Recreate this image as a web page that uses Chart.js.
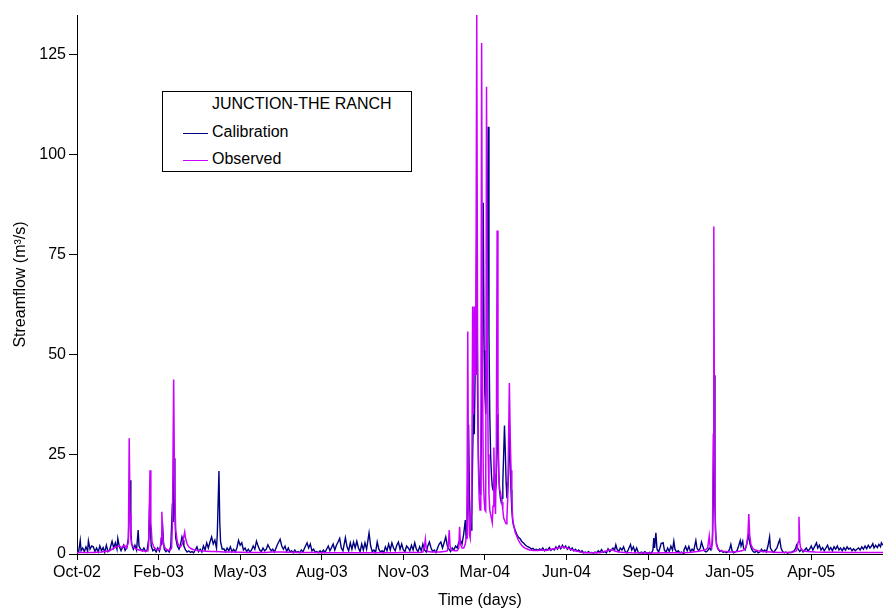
<!DOCTYPE html>
<html>
<head>
<meta charset="utf-8">
<script src="https://cdn.jsdelivr.net/npm/chart.js@4.4.1/dist/chart.umd.min.js"></script>
<style>
  body { margin: 0; background: #fff; }
  #wrap { position: relative; width: 883px; height: 610px; }
  #legend {
    position: absolute; left: 162px; top: 91px; width: 250px; height: 81px;
    border: 1px solid #000; background: #fff; box-sizing: border-box;
    font: 16px "Liberation Sans", Arial, sans-serif; color: #000;
  }
  #legend .ttl { position: absolute; left: 49px; top: 3px; }
  #legend .row { position: absolute; left: 20px; height: 20px; }
  #legend .sw { position: absolute; left: 0; top: 10px; width: 25px; height: 0; }
  #legend .lbl { position: absolute; left: 29px; top: 0; white-space: nowrap; }
</style>
</head>
<body>
<div id="wrap">
  <canvas id="flowChart" width="883" height="610"></canvas>
  <div id="legend"></div>
</div>
<script>
// days counted from 25 Oct 2002, streamflow in m3/s
const legendTitle = "JUNCTION-THE RANCH";
const xTickLabels = ["Oct-02", "Feb-03", "May-03", "Aug-03", "Nov-03", "Mar-04", "Jun-04", "Sep-04", "Jan-05", "Apr-05"];
const yTicks = [0, 25, 50, 75, 100, 125];

const calibration = [
  [0,1.0],[2,0.5],[4,3.4],[5,0.8],[7,1.5],[9,0.6],[11,1.8],[13,0.7],[14,3.3],[16,1.2],[18,2.0],[20,1.8],
  [22,0.6],[24,1.5],[26,0.5],[28,2.0],[30,0.8],[32,1.6],[34,0.4],[36,2.2],[38,0.6],[40,1.0],[43,3.2],[45,1.5],
  [47,2.8],[49,1.2],[50,3.9],[52,1.8],[54,0.8],[57,2.2],[59,0.9],[61,1.5],[63,4],[65,18.5],[66,6],[67,2.5],
  [69,1.2],[71,2.2],[73,1.0],[75,6.0],[76,2],[78,1.2],[80,0.8],[82,1.5],[84,0.6],[86,1.0],[88,4],[89,12.7],
  [90,6],[91,2],[93,0.8],[95,1.2],[97,0.5],[99,1.5],[101,0.7],[103,2.5],[104,5.5],[105,6.8],[106,3],[107,1.2],
  [109,0.6],[111,1.0],[113,0.5],[115,2.0],[117,12.7],[118,8],[119,24],[120,10],[121,4],[123,2],[125,1.2],[127,2.5],
  [128.7,4.3],[130,3.5],[131,2],[133,1.0],[135,0.5],[137,0.8],[139,0.4],[141,0.6],[143,0.3],[145,1.0],[147,1.8],
  [149,0.6],[151,1.2],[153,0.5],[155,2.0],[157,1.0],[159,2.8],[161,1.5],[163,3.0],[165,4.3],[167,2.5],[169,3.5],
  [171,1.5],[172,5],[174,20.8],[175,8],[176,3],[178,1.2],[180,1.3],[182,0.6],[184,1.5],[186,0.8],[188,1.8],
  [190,0.6],[192,1.2],[194,0.5],[196,1.5],[198,3.4],[200,2.2],[202,2.8],[204,1.0],[206,1.5],[208,0.6],[210,1.2],
  [212,0.5],[214,1.0],[216,2.0],[218,1.2],[220,3.2],[222,2.0],[224,1.0],[226,0.6],[228,1.5],[230,0.8],[232,1.2],
  [234,2.3],[236,1.5],[238,0.8],[240,1.2],[242,0.5],[244,1.5],[246,2.5],[249,3.7],[251,2.0],[253,1.2],[255,2.0],
  [257,0.6],[259,1.5],[261,0.5],[263,0.8],[265,0.3],[267,1.0],[269,0.4],[271,0.6],[273,0.3],[275,1.0],[277,0.5],
  [279,1.5],[282,2.8],[284,1.5],[286,2.5],[288,0.8],[290,1.2],[292,0.4],[294,0.6],[296,0.3],[298,0.8],[300,0.3],
  [302,1.0],[304,0.4],[306,1.2],[308,2.0],[310,0.8],[312,1.6],[314,2.5],[316,1.0],[318,2.2],[320,3.0],[322,3.9],
  [324,1.5],[326,0.8],[329,4.1],[331,1.8],[333,0.8],[335,2.8],[337,1.2],[339,3.0],[341,1.5],[343,3.2],[345,1.5],
  [347,0.6],[349,2.5],[351,1.0],[353,2.8],[355,1.2],[358,5.3],[360,2.0],[362,0.6],[364,1.0],[366,0.4],[368,3.0],
  [370,1.2],[372,0.5],[374,0.8],[376,0.3],[378,1.8],[380,0.8],[382,2.5],[384,1.0],[386,2.8],[388,1.5],[390,0.8],
  [392,2.2],[394,3.0],[396,1.2],[398,2.5],[400,1.0],[402,0.6],[404,2.0],[406,1.5],[408,0.8],[410,2.2],[412,1.0],
  [414,2.8],[416,1.2],[418,0.6],[420,1.8],[422,0.8],[424,2.5],[426,1.0],[428,0.5],[430,2.0],[432,3.0],[434,1.5],
  [436,0.6],[438,1.0],[440,0.4],[442,1.5],[444,2.5],[446,3.0],[448,1.5],[450,2.8],[452,4.3],[454,2.0],[456,1.2],
  [458,0.6],[460,1.5],[462,1.0],[464,2.0],[466,1.5],[468,3.0],[470,3.5],[472,2.5],[474,5.0],[476,8.5],[477,4],
  [478,6],[479,20],[480,32.4],[481,15],[482,8],[483,6],[484,10],[485,25],[486,35],[487,30],[488,45],[489,55],
  [490,82],[491,40],[492,25],[493,18],[494,15],[495,20],[496,35],[497,55],[498,88],[499,51],[500,40],[501,35],
  [502,50],[503,80],[504,107],[505,55],[506,35],[507,25],[508,20],[509,17],[510,16],[511,18],[512,20],[513,16],
  [514,18],[515,35],[516,28],[517,20],[518,16],[519,14],[520,13],[521,14],[522,18],[523,25],[524,32.2],[525,26],
  [526,18],[527,14],[528,16],[529,20],[530,33],[531,24],[532,16],[533,11],[534,8.5],[535,7.2],[537,6],[539,5],
  [541,4.2],[543,3.9],[545,3.2],[547,2.8],[549,2.4],[551,2.0],[553,1.8],[555,1.6],[557,1.2],[559,1.4],[561,1.0],
  [563,1.2],[565,0.9],[567,1.3],[569,1.0],[571,1.5],[573,0.8],[575,1.2],[577,1.0],[579,1.6],[581,0.9],[583,1.3],
  [585,1.0],[587,1.8],[589,1.2],[591,2.0],[593,1.3],[595,2.2],[597,1.5],[599,2.0],[601,1.2],[603,1.8],[605,1.0],
  [607,1.5],[609,0.8],[611,1.2],[613,0.7],[615,1.0],[617,0.5],[619,0.8],[621,0.3],[623,0.5],[625,0.3],[627,0.6],
  [629,0.3],[631,0.4],[633,0.2],[635,0.5],[637,0.3],[639,0.8],[641,0.4],[643,1.1],[645,0.4],[647,0.6],[649,0.3],
  [651,1.3],[653,0.6],[655,1.0],[657,1.5],[659,1.0],[660.5,2.3],[662,1.2],[664,0.6],[666,1.5],[668,1.0],[670,1.8],
  [672,0.6],[674,0.3],[676,1.2],[678.5,2.4],[680,1.0],[682,1.8],[684,0.5],[686,1.5],[688,0.4],[690,0.3],[692,0.5],
  [694,0.2],[696,0.6],[698,0.3],[700,0.2],[702,0.4],[704,0.2],[706,1.0],[707,4.0],[708,1.5],[709.6,5.3],[711,1.2],
  [713,0.5],[715,1.8],[716,2.6],[718.5,2.8],[720,1.0],[722,0.4],[724,1.5],[726,0.6],[728,2.0],[730,1.0],[731.6,3.2],
  [733,1.2],[735,0.5],[737,0.8],[739,0.3],[741,0.5],[743,0.2],[744,1.0],[746,1.9],[748,0.8],[750,1.9],[752,0.6],
  [754,1.2],[756,0.8],[758.6,3.4],[760,1.5],[762,0.8],[764,1.5],[765.5,3.0],[767,2.0],[769,0.8],[771,0.5],[773,0.8],
  [775,1.5],[777,1.0],[779,3],[780,15],[781,44.8],[782,12],[783,4.7],[784,2.5],[786,1.2],[788,0.6],[790,0.9],
  [792,0.4],[794,0.6],[796,0.3],[798,0.5],[800,1.2],[801.5,2.4],[803,0.8],[805,0.3],[807,0.5],[809,0.8],[811,2.0],
  [813,3.4],[814,2.0],[816,3.2],[817,1.5],[819,1.0],[821,2.5],[823,4.7],[825,2.5],[827,1.2],[829,0.6],[831,0.4],
  [833,0.8],[835,0.3],[837,0.5],[839,1.2],[841,0.6],[843,1.0],[845,0.5],[847,2.0],[849,4.3],[850,1.5],[852,0.8],
  [854,0.4],[856,1.0],[858,1.5],[860,2.8],[861.5,3.6],[863,1.5],[865,0.6],[867,0.3],[869,0.5],[871,0.2],[873,0.4],
  [875,0.3],[877,0.6],[879,0.8],[881,1.5],[882,2.2],[884,1.2],[886,0.6],[888,1.2],[890,0.5],[892,1.0],[894,1.5],
  [896,0.8],[898,1.2],[900,2.0],[902,1.0],[904,1.8],[906.5,2.8],[908,1.5],[910,2.2],[912,1.0],[914,1.6],[916,0.8],
  [918,1.5],[920,2.2],[922,1.0],[924,1.6],[926,0.8],[928,1.8],[930,1.2],[932,2.0],[934,1.0],[936,1.5],[938,0.8],
  [940,1.6],[942,1.0],[944,1.8],[946,1.2],[948,1.5],[950,0.8],[952,1.3],[954,0.8],[956,1.2],[958,1.5],[960,1.0],
  [962,1.8],[964,1.2],[966,2.0],[968,1.3],[970,2.2],[972,1.5],[974,2.0],[975.5,2.6],[977,1.5],[979,2.2],[981,1.6],
  [983,2.4],[985,1.8],[986,2.8],[988,2.2]
];

const observed = [
  [0,0.4],[10,0.35],[20,0.4],[30,0.5],[40,0.8],[45,1.5],[48,1.8],[52,2.0],[55,1.6],[58,2.2],[61,1.5],[63,3],
  [64,29],[65,10],[66,4],[67,2.5],[69,1.8],[72,1.3],[76,1.0],[80,0.8],[84,0.7],[87,0.8],[88,3],[89.5,21],
  [90.5,8],[92,3],[94,1.8],[97,1.2],[100,1.0],[102,1.2],[103,4],[104,10.6],[105,5],[106,2.5],[108,1.5],[111,1.0],
  [114,0.9],[116,1.5],[117,8],[118.5,43.7],[119.5,18],[121,6],[123,3],[125,2],[127,1.8],[129,2.5],[131,4.5],
  [132,5.5],[133,4],[135,2.5],[137,1.8],[140,1.3],[144,1.0],[148,0.9],[152,0.8],[158,0.7],[165,0.6],[172,0.6],
  [180,0.5],[190,0.5],[200,0.45],[210,0.4],[220,0.4],[230,0.4],[240,0.5],[250,0.5],[260,0.45],[270,0.4],[280,0.4],
  [290,0.35],[300,0.3],[310,0.3],[320,0.3],[330,0.3],[340,0.3],[350,0.3],[360,0.3],[370,0.3],[380,0.3],[390,0.3],
  [400,0.35],[410,0.4],[420,0.4],[424,0.5],[426,2],[427,3.7],[428,1.5],[430,0.6],[435,0.5],[440,0.5],[445,0.5],
  [450,0.6],[454,0.8],[455,2],[456.3,6.0],[457.3,2],[459,1],[463,0.8],[466,0.8],[468,1.5],[469,6.8],[470,2.5],
  [472,1.5],[474,1.5],[476,2.5],[477,4],[478,8],[479,55.7],[480,12],[481,5],[482,4],[483,10],[484,20],[485,62],
  [486,35],[487,62],[488,45],[489,60],[490,135],[491,55],[492,22],[493,14],[494,11],[495,18],[496,128],[497,48],
  [498,20],[499,14],[500,11],[501,10.7],[502,117],[503,55],[504,25],[505,15],[506,11],[507,10],[508,9],[509,7.9],
  [510,12],[511,26.7],[512,14],[513,10],[514,25],[515,81],[516,38],[517,20],[518,16],[519,15.6],[520,14],[521,13],
  [522,11],[523,9],[524,8.5],[525,8],[526,7.6],[527,9],[528,14],[529,28],[530,42.8],[531,30],[532,21],[533,14],
  [534,9],[535,7.6],[537,5.5],[539,4.5],[541,3.5],[543,2.8],[545,2.2],[548,1.6],[551,1.3],[555,1.0],[560,0.9],
  [565,0.9],[570,1.0],[575,0.9],[580,1.1],[585,1.3],[590,1.5],[595,1.8],[600,1.6],[605,1.2],[610,0.8],[615,0.6],
  [620,0.4],[625,0.3],[630,0.3],[640,0.3],[650,0.8],[655,1.1],[660,0.7],[665,0.5],[670,0.4],[680,0.3],[690,0.25],
  [700,0.25],[710,0.25],[720,0.3],[730,0.3],[740,0.3],[750,0.4],[760,0.6],[765,0.8],[770,1.0],[773,1.5],[774,3],
  [775,4.5],[776,2],[778,1.5],[779,5],[780,30],[780.6,82],[781.5,25],[782.5,6],[784,2.2],[786,1.2],[788,0.9],
  [792,0.7],[796,0.6],[800,0.5],[805,0.5],[810,0.6],[815,0.8],[819,1.2],[821,2.5],[822.5,5],[823.5,10],[824.5,5],
  [826,2.5],[828,1.5],[831,1.0],[835,0.8],[840,0.6],[850,0.5],[860,0.4],[870,0.4],[878,0.5],[882,0.8],[884,3],
  [885,9.3],[886,3],[887,1.5],[890,0.8],[895,0.6],[905,0.5],[915,0.45],[930,0.45],[945,0.4],[960,0.4],[975,0.4],
  [988,0.4]
];

const toPoints = rows => rows.map(r => ({ x: r[0], y: r[1] }));
const axisFont = { family: '"Liberation Sans", Arial, sans-serif', size: 16 };

const flowChart = new Chart(document.getElementById("flowChart").getContext("2d"), {
  type: "line",
  data: {
    datasets: [
      {
        label: "Calibration",
        data: toPoints(calibration),
        borderColor: "#000080",
        borderWidth: 1.4,
        pointRadius: 0,
        tension: 0,
        order: 2
      },
      {
        label: "Observed",
        data: toPoints(observed),
        borderColor: "#cc00ff",
        borderWidth: 1.5,
        pointRadius: 0,
        tension: 0,
        order: 1
      }
    ]
  },
  options: {
    responsive: false,
    animation: false,
    layout: { padding: { top: 15, right: 0, left: 0, bottom: 0 } },
    plugins: { legend: { display: false }, tooltip: { enabled: false } },
    scales: {
      x: {
        type: "linear",
        min: 0,
        max: 988,
        border: { color: "#000", width: 1 },
        grid: { drawOnChartArea: false, color: "#000", tickLength: 6 },
        ticks: {
          stepSize: 100,
          includeBounds: false,
          autoSkip: false,
          maxRotation: 0,
          color: "#000",
          font: axisFont,
          padding: 3,
          callback: v => xTickLabels[Math.round(v / 100)]
        },
        title: { display: true, text: "Time (days)", color: "#000", font: axisFont, padding: { top: 0, bottom: 0 } },
        afterFit: s => { s.height = 56; }
      },
      y: {
        min: 0,
        max: 135,
        border: { color: "#000", width: 1 },
        grid: { drawOnChartArea: false, color: "#000", tickLength: 8 },
        ticks: { stepSize: 25, includeBounds: false, color: "#000", font: axisFont, padding: 3 },
        afterBuildTicks: s => { s.ticks = yTicks.map(v => ({ value: v })); },
        title: { display: true, text: "Streamflow (m\u00b3/s)", color: "#000", font: axisFont, padding: { top: 11, bottom: 0 } },
        afterFit: s => { s.width = 77; }
      }
    }
  }
});

// legend box drawn as html over the plot
const legend = document.getElementById("legend");
legend.innerHTML = '<div class="ttl">' + legendTitle + '</div>' +
  flowChart.data.datasets.map((ds, i) =>
    '<div class="row" style="top:' + (31 + i * 27) + 'px"><div class="sw" style="border-top:' +
    ds.borderWidth + 'px solid ' + ds.borderColor + '"></div><div class="lbl">' + ds.label + '</div></div>'
  ).join("");
</script>
</body>
</html>
